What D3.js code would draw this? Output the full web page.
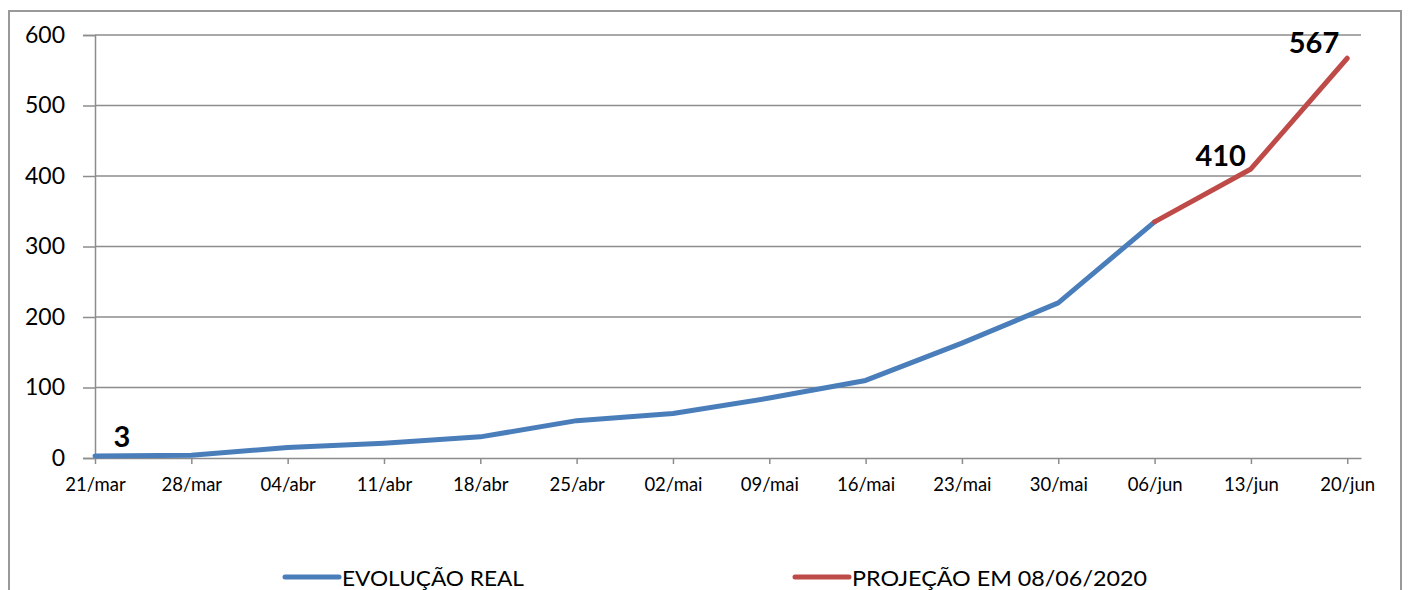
<!DOCTYPE html>
<html><head><meta charset="utf-8">
<script src="https://cdn.jsdelivr.net/npm/d3@7"></script>
<style>body{margin:0;background:#fff}svg{display:block}</style>
</head><body>
<svg id="c" width="1408" height="590"></svg>
<script>
const tickLabels = ["21/mar","28/mar","04/abr","11/abr","18/abr","25/abr","02/mai","09/mai","16/mai","23/mai","30/mai","06/jun","13/jun","20/jun"];
const realDays = [0,7,14,21,28,35,42,49,56,63,70,77];
const realValues = [3,4,15,21,30,53,63,85,110,163,220,335];
const projDays = [77,84,91];
const projValues = [335,410,567];
const yTicks = [0,100,200,300,400,500,600];
const labeled = [{d:0,v:3,s:"real"},{d:84,v:410,s:"proj"},{d:91,v:567,s:"proj"}];
const seriesNames = ["EVOLUÇÃO REAL","PROJEÇÃO EM 08/06/2020"];
const colors = {real:"#4a7ebb", proj:"#be4b48"};

const svg = d3.select("#c");
const font = "Lato, 'Open Sans', sans-serif";
const gridC = "#8c8c8c";

// outer chart border
svg.append("rect").attr("x",9).attr("y",11).attr("width",1392).attr("height",600)
  .attr("fill","none").attr("stroke","#999").attr("stroke-width",2);

const x = d3.scaleLinear().domain([0,92]).range([95,1361]);
const y = d3.scaleLinear().domain([0,600]).range([458,35]);

// gridlines + y axis
const gy = svg.append("g").attr("transform","translate(95,0)")
  .call(d3.axisLeft(y).tickValues(yTicks).tickSize(12).tickPadding(18).tickFormat(d3.format("d")));
gy.select(".domain").attr("stroke",gridC).attr("stroke-width",1.5);
gy.selectAll(".tick line").attr("stroke",gridC).attr("stroke-width",1.5);
gy.selectAll(".tick text").attr("font-family",font).attr("font-size",23).attr("fill","#000");
svg.append("g").selectAll("line").data(yTicks.filter(d=>d>0)).join("line")
  .attr("x1",95).attr("x2",1361).attr("y1",d=>y(d)).attr("y2",d=>y(d))
  .attr("stroke",gridC).attr("stroke-width",1.5);

// x axis
const gx = svg.append("g").attr("transform","translate(0,458)")
  .call(d3.axisBottom(x).tickValues(d3.range(tickLabels.length).map(i=>i*7))
    .tickSize(6).tickSizeOuter(0).tickPadding(14).tickFormat((d,i)=>tickLabels[i]));
gx.select(".domain").attr("stroke",gridC).attr("stroke-width",1.5);
gx.selectAll(".tick line").attr("stroke",gridC).attr("stroke-width",1.5);
gx.selectAll(".tick text").attr("font-family",font).attr("font-size",18.5).attr("fill","#000");

// lines
const line = d3.line().x(d=>x(d[0])).y(d=>y(d[1]));
svg.append("path").datum(realDays.map((d,i)=>[d,realValues[i]]))
  .attr("d",line).attr("fill","none").attr("stroke",colors.real).attr("stroke-width",5)
  .attr("stroke-linejoin","round").attr("stroke-linecap","round");
svg.append("path").datum(projDays.map((d,i)=>[d,projValues[i]]))
  .attr("d",line).attr("fill","none").attr("stroke",colors.proj).attr("stroke-width",5)
  .attr("stroke-linejoin","round").attr("stroke-linecap","round");

// data labels
const off = [{dx:27,dy:-9,a:"middle"},{dx:-5,dy:-3,a:"end"},{dx:-8,dy:-5,a:"end"}];
svg.append("g").selectAll("text").data(labeled).join("text")
  .attr("x",(d,i)=>x(d.d)+off[i].dx).attr("y",(d,i)=>y(d.v)+off[i].dy)
  .attr("text-anchor",(d,i)=>off[i].a)
  .attr("font-family",font).attr("font-weight","bold").attr("font-size",29).attr("fill","#000")
  .text(d=>d.v);

// legend
const leg = [{n:seriesNames[0],c:colors.real,x:283,w:182},{n:seriesNames[1],c:colors.proj,x:793,w:295}];
const lg = svg.append("g");
leg.forEach(l=>{
  lg.append("line").attr("x1",l.x+2).attr("x2",l.x+56).attr("y1",577).attr("y2",577)
    .attr("stroke",l.c).attr("stroke-width",5).attr("stroke-linecap","round");
  lg.append("text").attr("x",l.x+59).attr("y",586).attr("font-family",font).attr("font-size",22)
    .attr("textLength",l.w).attr("lengthAdjust","spacingAndGlyphs").attr("fill","#000").text(l.n);
});
</script>
</body></html>
